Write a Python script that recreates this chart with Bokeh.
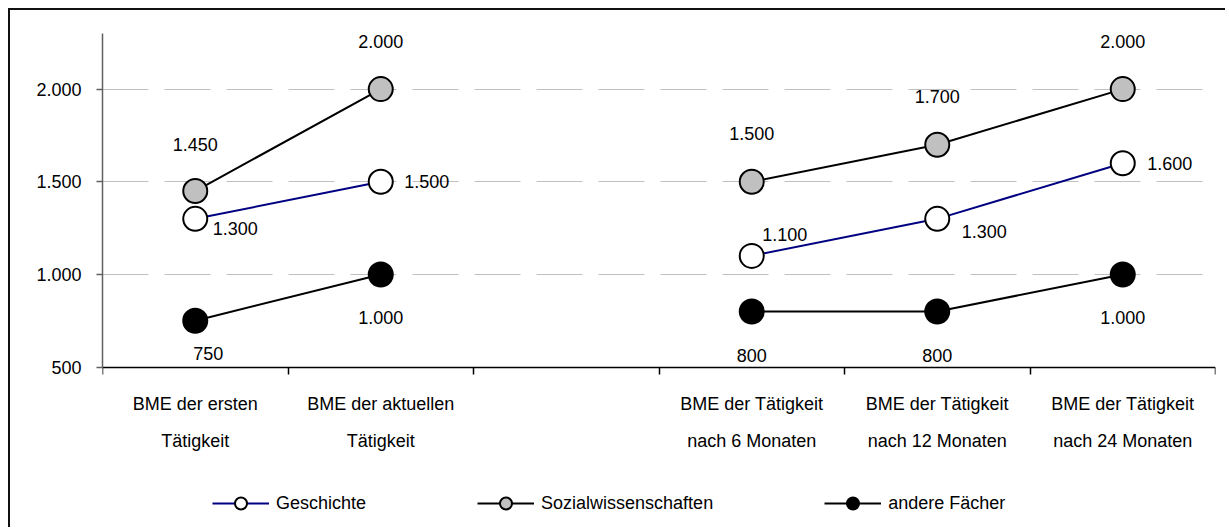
from bokeh.plotting import figure
from bokeh.models import (ColumnDataSource, FixedTicker, LabelSet, Legend, LegendItem, Range1d)
from bokeh.core.properties import value
from bokeh.embed import file_html
from bokeh.resources import INLINE

# ---------------- data ----------------
categories = ["BME der ersten\nTätigkeit", "BME der aktuellen\nTätigkeit", "",
              "BME der Tätigkeit\nnach 6 Monaten", "BME der Tätigkeit\nnach 12 Monaten",
              "BME der Tätigkeit\nnach 24 Monaten"]
series_names = ["Geschichte", "Sozialwissenschaften", "andere Fächer"]
geschichte = [1300, 1500, None, 1100, 1300, 1600]
sozialwissenschaften = [1450, 2000, None, 1500, 1700, 2000]
andere_faecher = [750, 1000, None, 800, 800, 1000]
y_ticks = [500, 1000, 1500, 2000]
y_tick_labels = ["500", "1.000", "1.500", "2.000"]
y_axis_min, y_axis_max = 500, 2300

# ---------------- label placement (screen px, up = positive) ----------------
label_dx = {"Geschichte": [40, 46, 0, 33, 47, 47],
            "Sozialwissenschaften": [0, 0, 0, 0, 0, 0],
            "andere Fächer": [13, 0, 0, 0, 0, 0]}
label_dy = {"Geschichte": [-10, 0, 0, 21, -13, 0],
            "Sozialwissenschaften": [47, 48, 0, 48, 48, 48],
            "andere Fächer": [-33, -43, 0, -44, -44, -43]}

styles = {
    "Geschichte": dict(line="#000080", fill="white"),
    "Sozialwissenschaften": dict(line="black", fill="#c0c0c0"),
    "andere Fächer": dict(line="black", fill="black"),
}

FONT = "Liberation Sans"
FS = "18px"

# layout (canvas px)
W, H = 1217, 519
B_LEFT, B_RIGHT, B_TOP, B_BOTTOM = 92, 12, 10, 0
PX_PER_UNIT = 278 / 1500.0
AXIS_TOP_PX = 23  # canvas px where the y axis ends (value y_axis_max)
frame_h = H - B_TOP - B_BOTTOM
y_end = y_axis_max + (AXIS_TOP_PX - B_TOP) / PX_PER_UNIT
y_start = y_end - frame_h / PX_PER_UNIT

p = figure(width=W, height=H, output_backend="svg", toolbar_location=None,
           x_range=Range1d(-0.5, 5.5), y_range=Range1d(y_start, y_end),
           min_border_left=B_LEFT, min_border_right=B_RIGHT,
           min_border_top=B_TOP, min_border_bottom=B_BOTTOM)
p.outline_line_color = None
p.background_fill_color = "white"
p.border_fill_color = "white"
p.styles = {"margin-left": "8px", "margin-top": "8px",
            "border-left": "2px solid #111111", "border-top": "2px solid #111111"}

# axes
xa = p.xaxis[0]
xa.fixed_location = y_axis_min
xa.ticker = FixedTicker(ticks=list(range(len(categories))),
                        minor_ticks=[i - 0.5 for i in range(len(categories) + 1)])
xa.major_label_overrides = {i: c for i, c in enumerate(categories)}
xa.major_tick_line_color = None
xa.major_tick_out = 7
xa.major_tick_in = 0
xa.minor_tick_line_color = "black"
xa.minor_tick_out = 7
xa.minor_tick_in = 0
xa.minor_tick_line_width = 1.5
xa.axis_line_color = "black"
xa.axis_line_width = 1.5
xa.major_label_standoff = 20
xa.major_label_text_font = FONT
xa.major_label_text_font_size = FS
xa.major_label_text_color = "black"
xa.major_label_text_line_height = 1.85

ya = p.yaxis[0]
ya.bounds = (y_axis_min, y_axis_max)
ya.ticker = FixedTicker(ticks=y_ticks)
ya.major_label_overrides = {t: l for t, l in zip(y_ticks, y_tick_labels)}
ya.minor_tick_line_color = None
ya.major_tick_out = 6
ya.major_tick_in = 0
ya.major_tick_line_color = "#606060"
ya.major_tick_line_width = 1.5
ya.axis_line_color = "#606060"
ya.axis_line_width = 1.5
ya.major_label_standoff = 15
ya.major_label_text_font = FONT
ya.major_label_text_font_size = FS
ya.major_label_text_color = "black"

p.xgrid.grid_line_color = None
p.ygrid.ticker = FixedTicker(ticks=y_ticks[1:])
p.ygrid.grid_line_color = "#c0c0c0"
p.ygrid.grid_line_width = 1
p.ygrid.grid_line_dash = "46 16"

def fmt(v):
    return "" if v is None else f"{v:,}".replace(",", ".")

xs = list(range(len(categories)))
all_series = [geschichte, sozialwissenschaften, andere_faecher]
items = []

for name, vals in zip(series_names, all_series):
    st = styles[name]
    ys = [float("nan") if v is None else v for v in vals]
    src = ColumnDataSource(dict(x=xs, y=ys, label=[fmt(v) for v in vals],
                                dx=label_dx[name], dy=label_dy[name]))
    lr = p.line("x", "y", source=src, line_color=st["line"], line_width=2)
    sr = p.scatter("x", "y", source=src, size=24, marker="circle",
                   fill_color=st["fill"], line_color="black", line_width=2)
    p.add_layout(LabelSet(x="x", y="y", text="label", source=src,
                          x_offset="dx", y_offset="dy",
                          text_align="center", text_baseline="middle",
                          text_font=value(FONT), text_font_size=value(FS),
                          text_color="black"))
    items.append(LegendItem(label=name, renderers=[lr, sr]))

leg = Legend(items=items, location=(110, 11), orientation="horizontal",
             padding=0, margin=0, spacing=111, border_line_color=None,
             background_fill_alpha=0, glyph_width=57, glyph_height=30,
             label_standoff=7, label_text_font=FONT, label_text_font_size=FS,
             label_text_color="black")
p.add_layout(leg, "center")

open("out.html", "w").write(file_html(p, INLINE))
